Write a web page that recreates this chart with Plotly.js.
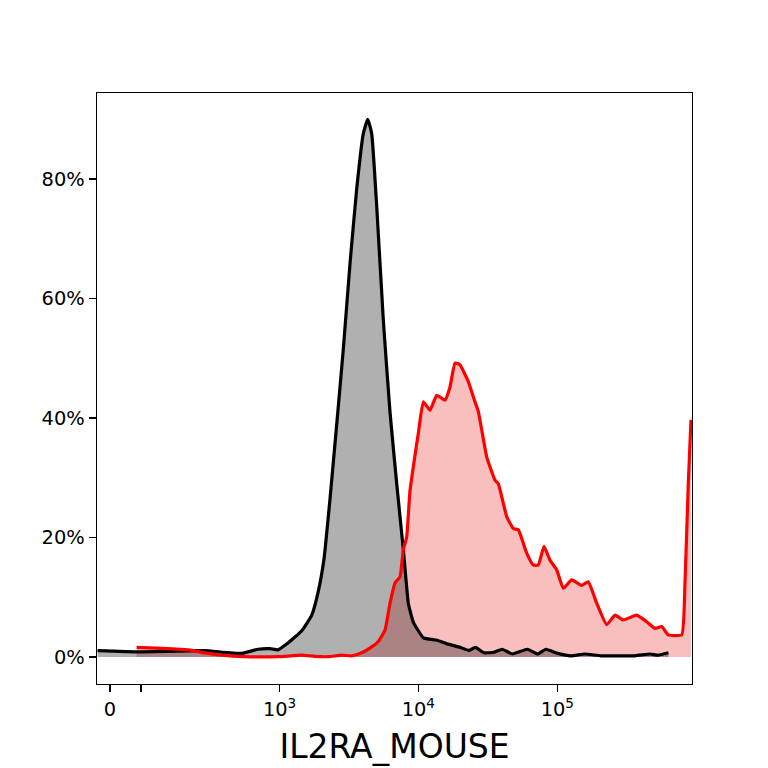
<!DOCTYPE html>
<html>
<head>
<meta charset="utf-8">
<script src="https://cdn.plot.ly/plotly-3.0.1.min.js"></script>
<style>html,body{margin:0;padding:0;background:#fff;}#chart{width:768px;height:768px;}</style>
</head>
<body>
<div id="chart"></div>
<script>
// Fluorescence intensity (data units) and % of max for each histogram
const controlX = [-25, 58, 141, 278, 529, 697, 852, 975, 1130, 1448, 1709, 1897, 2096, 2314, 2587, 2886, 3224, 3603, 4019, 4323, 4617, 5018, 5598, 6254, 6988, 7810, 8482, 9214, 10890, 13625, 16081, 20074, 23069, 25779, 29675, 35023, 40190, 47505, 60984, 72116, 82885, 100612, 125417, 157119, 206124, 362032, 464217, 529859, 630592];
const controlY = [1.05, 0.85, 0.95, 1.05, 0.6, 1.3, 1.4, 1.2, 2.2, 4.4, 7.0, 10.8, 16.5, 26.5, 39.0, 51.6, 65.9, 78.4, 87.6, 90, 87.6, 75.4, 56.4, 41, 29, 17.8, 8.9, 5.8, 3.2, 2.8, 2.2, 1.6, 1.1, 1.6, 0.7, 0.8, 1.3, 0.5, 1.3, 0.5, 1.3, 0.6, 0.2, 0.5, 0.2, 0.2, 0.5, 0.3, 0.7];

const stainedX = [55, 117, 206, 278, 375, 560, 975, 1448, 1806, 2251, 2810, 3316, 3914, 4617, 5152, 5757, 6254, 6793, 7381, 7797, 8247, 8706, 9463, 9996, 10861, 12131, 13553, 15553, 16898, 18357, 19942, 22875, 25566, 27003, 31035, 35628, 37625, 43229, 48213, 52380, 60193, 67160, 72958, 80197, 88570, 98960, 110410, 126900, 149720, 167010, 191970, 226560, 259990, 298280, 372380, 439450, 504300, 563500, 628400, 784800, 828950, 875500, 915700];
const stainedY = [1.6, 1.45, 1.2, 0.7, 0.3, 0.05, 0.05, 0.3, 0.1, 0.05, 0.3, 0.2, 0.7, 1.7, 2.6, 4.5, 9, 12.4, 13.4, 18, 20.1, 27.8, 33.8, 37.4, 42.7, 41.3, 43.8, 43, 45.2, 49.2, 48.9, 46.1, 42.7, 41.1, 33.5, 29.6, 29, 23.5, 21.5, 21.3, 17.4, 15.4, 15.4, 18.5, 16.2, 14.6, 11.5, 12.9, 12.0, 12.6, 9.0, 5.4, 7.0, 6.2, 7.0, 5.9, 4.8, 5.1, 3.7, 3.7, 12.4, 29, 39.7];

const xTickValues = [0, 65, 1000, 10000, 100000];
const xTickLabels = ['0', '', '10<sup>3</sup>', '10<sup>4</sup>', '10<sup>5</sup>'];
const yTickValues = [0, 20, 40, 60, 80];
const yTickLabels = ['0%', '20%', '40%', '60%', '80%'];
const xLimits = [-26.3, 931000];
const yLimits = [-4.52, 94.4];
const xLabel = 'IL2RA_MOUSE';

// arcsinh (biexponential-like) display scale
const W = 121;
const T = v => Math.asinh(v / W) / Math.LN10;

const FONT = 'DejaVu Sans, sans-serif';
const lineShape = {shape: 'spline', smoothing: 0.4};

const traces = [
  {x: stainedX.map(T), y: stainedY, mode: 'none', fill: 'tozeroy',
   fillcolor: 'rgba(230,0,0,0.255)', hoverinfo: 'skip', showlegend: false},
  {x: controlX.map(T), y: controlY, mode: 'none', fill: 'tozeroy',
   fillcolor: 'rgba(0,0,0,0.31)', hoverinfo: 'skip', showlegend: false},
  {x: controlX.map(T), y: controlY, mode: 'lines',
   line: Object.assign({color: '#000000', width: 3.2}, lineShape), hoverinfo: 'skip', showlegend: false},
  {x: stainedX.map(T), y: stainedY, mode: 'lines',
   line: Object.assign({color: '#ff0000', width: 3.2}, lineShape), hoverinfo: 'skip', showlegend: false}
];

const layout = {
  width: 768, height: 768,
  margin: {l: 97, r: 76, t: 93, b: 84},
  paper_bgcolor: '#ffffff', plot_bgcolor: '#ffffff',
  font: {family: FONT, size: 19.4, color: '#000000'},
  showlegend: false,
  xaxis: {
    range: xLimits.map(T),
    tickmode: 'array', tickvals: xTickValues.map(T), ticktext: xTickLabels,
    ticks: 'outside', ticklen: 7, tickwidth: 1.4, tickcolor: '#000',
    showline: true, linecolor: '#000', linewidth: 1.4, mirror: true,
    showgrid: false, zeroline: false,
    tickfont: {family: FONT, size: 19.4, color: '#000'},
    title: {text: xLabel, font: {family: FONT, size: 33, color: '#000'}, standoff: 15},
    automargin: false
  },
  yaxis: {
    range: yLimits,
    tickmode: 'array', tickvals: yTickValues, ticktext: yTickLabels,
    ticks: 'outside', ticklen: 7, tickwidth: 1.4, tickcolor: '#000',
    showline: true, linecolor: '#000', linewidth: 1.4, mirror: true,
    showgrid: false, zeroline: false,
    tickfont: {family: FONT, size: 19.4, color: '#000'},
    automargin: false
  }
};

Plotly.newPlot('chart', traces, layout, {staticPlot: true, displayModeBar: false});
</script>
</body>
</html>
